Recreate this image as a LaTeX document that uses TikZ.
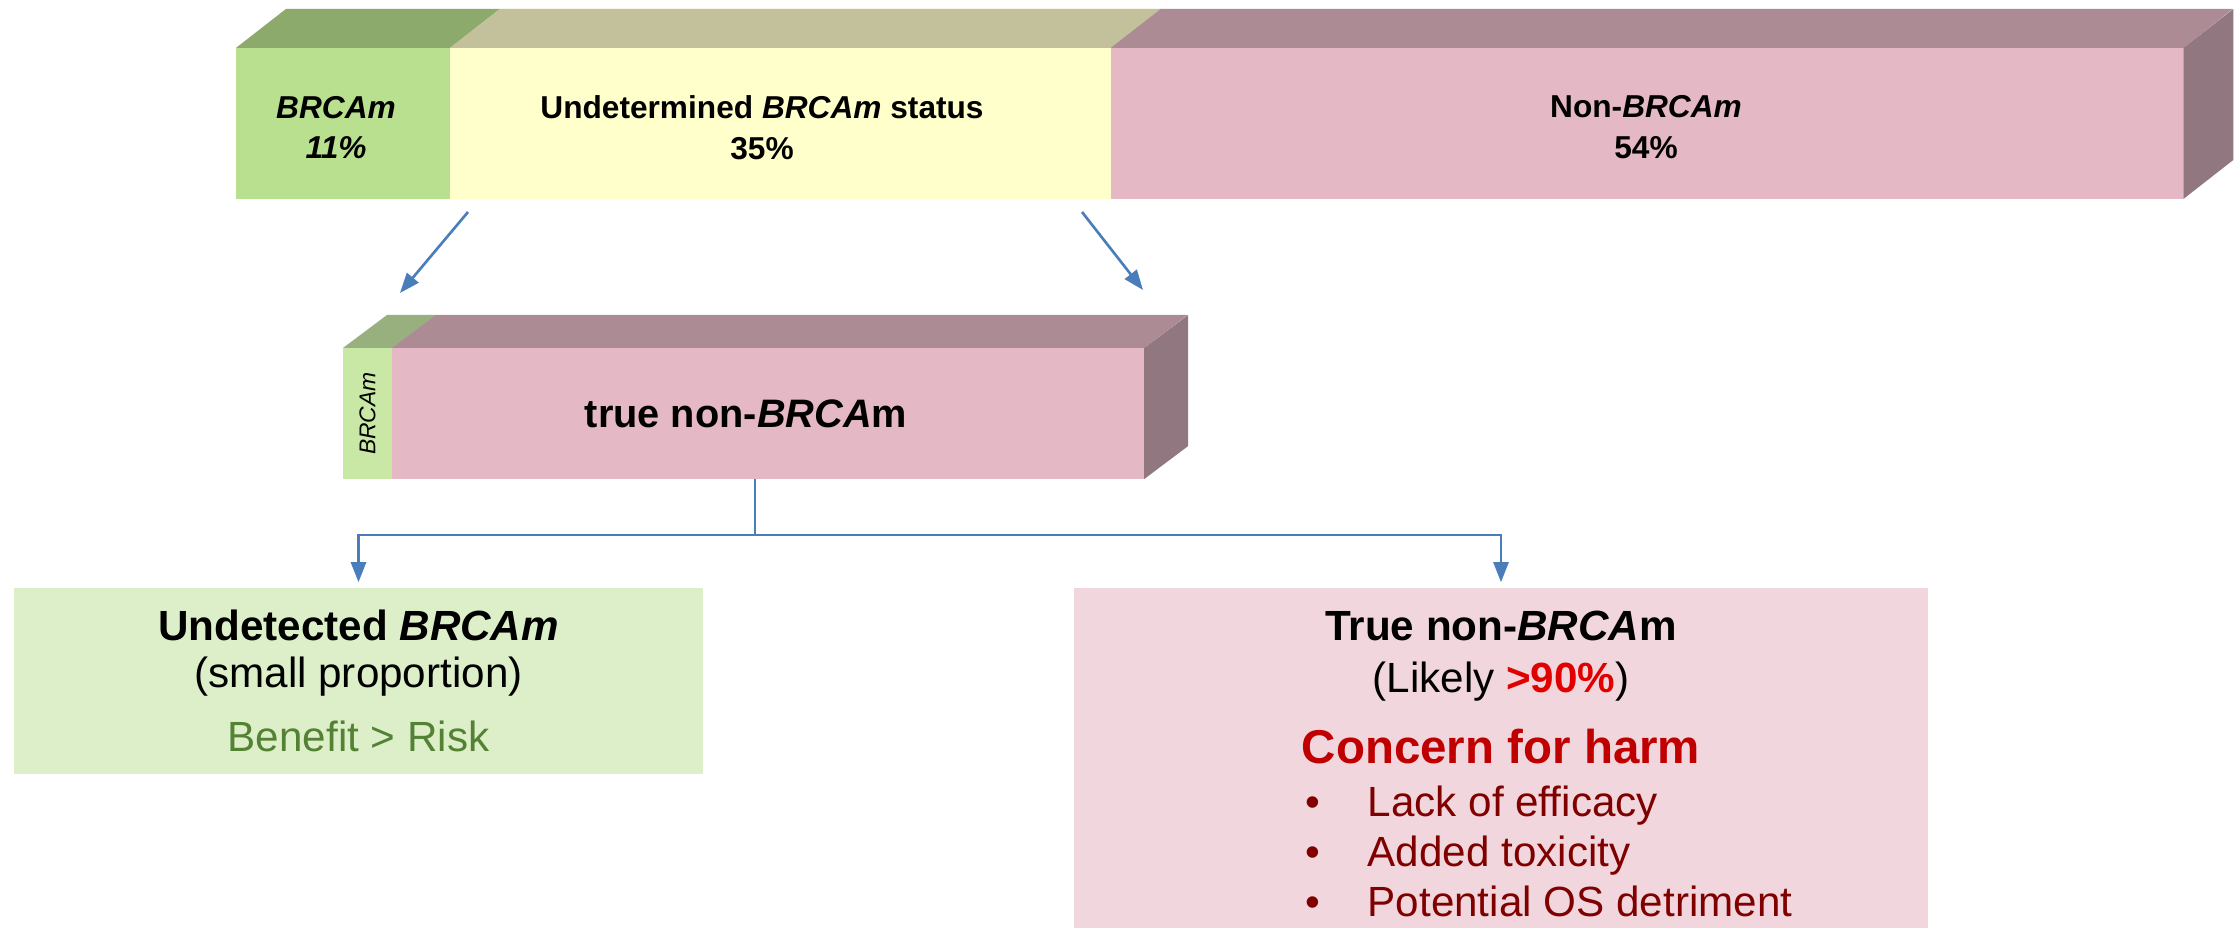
\documentclass[tikz,border=0pt]{standalone}
\usepackage{fontspec}
\setmainfont{Liberation Sans}
\usetikzlibrary{arrows.meta}

\definecolor{mgreen}{HTML}{B9E08F}
\definecolor{mgreentop}{HTML}{8CAA6B}
\definecolor{myellow}{HTML}{FFFFCC}
\definecolor{myellowtop}{HTML}{C2C19B}
\definecolor{mpink}{HTML}{E4B8C4}
\definecolor{mpinktop}{HTML}{AD8B95}
\definecolor{mpinkside}{HTML}{91777F}
\definecolor{sgreen}{HTML}{C9E8A6}
\definecolor{sgreentop}{HTML}{98B07E}
\definecolor{boxgreen}{HTML}{DDEFC9}
\definecolor{boxpink}{HTML}{F1D7DD}
\definecolor{lineblue}{HTML}{4A7EBB}
\definecolor{benefit}{HTML}{548235}
\definecolor{brightred}{HTML}{E00000}
\definecolor{concern}{HTML}{C00000}
\definecolor{harm}{HTML}{800000}

\begin{document}
\begin{tikzpicture}[x=0.01cm, y=-0.01cm,
  face/.style={inner sep=0pt, outer sep=0pt, align=center},
  bartext/.style={inner sep=0pt, align=center, font=\fontsize{9}{11.6}\selectfont\bfseries},
  blueline/.style={draw=lineblue, line width=0.75pt},
  bluearrow/.style={blueline, -{Triangle[length=0.2cm, width=0.15cm]}}]
\useasboundingbox (0,0) rectangle (2239,928);

\node[face, fill=mgreen, minimum width=2.14cm, minimum height=1.51cm] (brca) at (343,123.5) {};
\node[face, fill=myellow, minimum width=6.61cm, minimum height=1.51cm] (undet) at (780.5,123.5) {};
\node[face, fill=mpink, minimum width=10.72cm, minimum height=1.51cm] (nonbrca) at (1647,123.5) {};
\fill[mgreentop] (brca.north west) -- ++(50,-39) -- ++(214,0) -- (brca.north east) -- cycle;
\fill[myellowtop] (undet.north west) -- ++(50,-39) -- ++(661,0) -- (undet.north east) -- cycle;
\fill[mpinktop] (nonbrca.north west) -- ++(50,-39) -- ++(1072,0) -- (nonbrca.north east) -- cycle;
\fill[mpinkside] (nonbrca.north east) -- ++(50,-39) -- ++(0,151) -- (nonbrca.south east) -- cycle;
\node[bartext] (brcatext) at (336,127.5) {\itshape BRCAm\\\itshape 11\%};
\node[bartext] (undettext) at (762,127.5) {Undetermined \textit{BRCAm} status\\35\%};
\node[bartext] (nonbrcatext) at (1646,127.5) {Non-\textit{BRCAm}\\54\%};

\node[face, fill=sgreen, minimum width=0.49cm, minimum height=1.31cm] (smallbrca) at (367.5,413.5) {};
\node[face, fill=mpink, minimum width=7.52cm, minimum height=1.31cm, font=\fontsize{11.3}{13}\selectfont\bfseries] (truenon) at (768,413.5) {\hspace*{-0.44cm}true non-\textit{BRCA}m};
\node[rotate=90, inner sep=0pt, font=\fontsize{6.5}{7}\selectfont\itshape] (smalllabel) at (smallbrca) {BRCAm};
\fill[sgreentop] (smallbrca.north west) -- ++(44,-33) -- ++(49,0) -- (smallbrca.north east) -- cycle;
\fill[mpinktop] (truenon.north west) -- ++(44,-33) -- ++(752,0) -- (truenon.north east) -- cycle;
\fill[mpinkside] (truenon.north east) -- ++(44,-33) -- ++(0,131) -- (truenon.south east) -- cycle;

\coordinate (leftfrom) at (468,212);
\coordinate (leftto) at (400,293);
\coordinate (rightfrom) at (1082,212);
\coordinate (rightto) at (1143,290);
\draw[bluearrow] (leftfrom) -- (leftto);
\draw[bluearrow] (rightfrom) -- (rightto);

\node[fill=boxgreen, inner sep=0pt, minimum width=6.89cm, minimum height=1.86cm, align=center, font=\fontsize{12}{13.4}\selectfont] (undetected) at (358.5,681) {\textbf{Undetected \textit{BRCAm}}\\(small proportion)\\[5pt]\textcolor{benefit}{Benefit > Risk}};
\node[fill=boxpink, inner sep=0pt, minimum width=8.54cm, minimum height=3.40cm] (truebox) at (1501,758) {};
\node[anchor=north, inner sep=0pt, align=center, font=\fontsize{12}{15}\selectfont] (truehead) at (1501,610) {\textbf{True non-\textit{BRCA}m}\\(Likely \textcolor{brightred}{\textbf{>90\%}})\\[5pt]\textcolor{concern}{\fontsize{13.5}{15}\selectfont\bfseries Concern for harm}};
\node[anchor=north west, inner sep=0pt, align=left, text=harm, font=\fontsize{12}{14.2}\selectfont] (harmlist) at (1305,785) {\makebox[0.62cm][l]{\textbullet}Lack of efficacy\\\makebox[0.62cm][l]{\textbullet}Added toxicity\\\makebox[0.62cm][l]{\textbullet}Potential OS detriment};

\coordinate (fork) at (755,535);
\draw[blueline] (truenon.south -| fork) -- (fork);
\draw[bluearrow] (fork) -| ([yshift=0.05cm]undetected.north);
\draw[bluearrow] (fork) -| ([yshift=0.05cm]truebox.north);
\end{tikzpicture}
\end{document}
